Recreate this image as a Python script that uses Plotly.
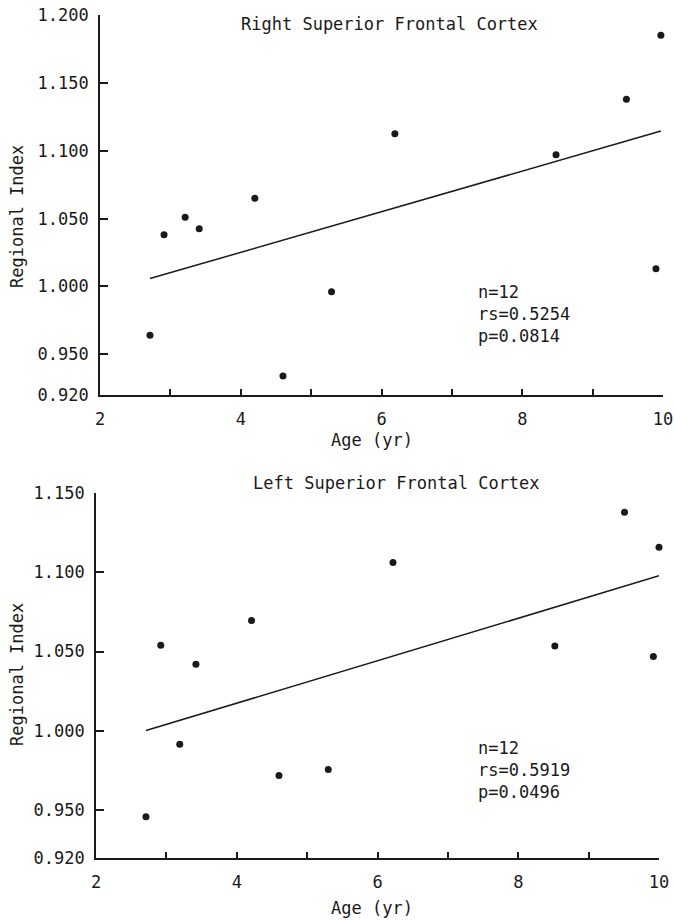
import numpy as np
import plotly.graph_objects as go

# ---- data ----
right_age = [2.71, 2.91, 3.21, 3.41, 4.20, 4.60, 5.29, 6.19, 8.48, 9.48, 9.97, 9.90]
right_idx = [0.964, 1.038, 1.051, 1.0425, 1.065, 0.934, 0.996, 1.1125, 1.097, 1.138, 1.185, 1.013]
left_age = [2.71, 2.92, 3.19, 3.42, 4.21, 4.60, 5.30, 6.22, 8.52, 9.51, 9.92, 10.0]
left_idx = [0.946, 1.054, 0.9916, 1.042, 1.0696, 0.972, 0.9758, 1.106, 1.0535, 1.1377, 1.0468, 1.1156]

right_yticks = [0.920, 0.950, 1.000, 1.050, 1.100, 1.150, 1.200]
left_yticks = [0.920, 0.950, 1.000, 1.050, 1.100, 1.150]
x_ticks = [2, 4, 6, 8, 10]

right_title = "Right Superior Frontal Cortex"
left_title = "Left Superior Frontal Cortex"
right_stats = ["n=12", "rs=0.5254", "p=0.0814"]
left_stats = ["n=12", "rs=0.5919", "p=0.0496"]

FONT = "DejaVu Sans Mono"
INK = "#1a1a1a"
FS = 17


def fit_line(x, y):
    x = np.asarray(x)
    y = np.asarray(y)
    b, a = np.polyfit(x, y, 1)
    xs = np.array([x.min(), x.max()])
    return xs, a + b * xs


fig = go.Figure()

for i, (ax, ay) in enumerate([(right_age, right_idx), (left_age, left_idx)]):
    xa = "x" if i == 0 else "x2"
    ya = "y" if i == 0 else "y2"
    lx, ly = fit_line(ax, ay)
    fig.add_trace(go.Scatter(x=lx, y=ly, mode="lines", line=dict(color=INK, width=1.5),
                             xaxis=xa, yaxis=ya, showlegend=False, hoverinfo="skip"))
    fig.add_trace(go.Scatter(x=ax, y=ay, mode="markers", marker=dict(color=INK, size=7),
                             xaxis=xa, yaxis=ya, showlegend=False, cliponaxis=False))

W, H = 674, 920


def xaxis_cfg(dom):
    return dict(domain=dom, range=[2, 10], tickvals=x_ticks, ticktext=[str(v) for v in x_ticks],
                showline=True, linecolor=INK, linewidth=1.6, ticks="inside", ticklen=6,
                tickwidth=1.5, tickcolor=INK, showgrid=False, zeroline=False, automargin=False,
                minor=dict(dtick=1, ticks="inside", ticklen=6, tickwidth=1.5, tickcolor=INK, showgrid=False),
                ticklabelstandoff=8, tickfont=dict(family=FONT, size=FS, color=INK))


def yaxis_cfg(dom, rng, ticks, anchor):
    return dict(domain=dom, range=rng, tickvals=ticks, ticktext=["%.3f" % v for v in ticks],
                showline=True, linecolor=INK, linewidth=1.6, ticks="inside", ticklen=8,
                tickwidth=1.5, tickcolor=INK, showgrid=False, zeroline=False, anchor=anchor,
                automargin=False,
                ticklabelstandoff=6, tickfont=dict(family=FONT, size=FS, color=INK))


fig.update_layout(
    width=W, height=H, margin=dict(l=0, r=0, t=0, b=0, autoexpand=False),
    paper_bgcolor="white", plot_bgcolor="white",
    xaxis=dict(xaxis_cfg([100 / W, 663 / W]), anchor="y"),
    yaxis=yaxis_cfg([1 - 395 / H, 1 - 15 / H], [0.92, 1.20], right_yticks, "x"),
    xaxis2=dict(xaxis_cfg([96 / W, 659 / W]), anchor="y2"),
    yaxis2=yaxis_cfg([1 - 858 / H, 1 - 492.7 / H], [0.92, 1.15], left_yticks, "x2"),
)

ann = []
ann.append(dict(text=right_title, x=389 / W, y=1 - 24 / H))
ann.append(dict(text=left_title, x=396 / W, y=1 - 483 / H))
ann.append(dict(text="Age (yr)", x=372 / W, y=1 - 440 / H))
ann.append(dict(text="Age (yr)", x=372 / W, y=1 - 908 / H))
ann.append(dict(text="Regional Index", x=17 / W, y=1 - 217 / H, textangle=-90))
ann.append(dict(text="Regional Index", x=17 / W, y=1 - 675 / H, textangle=-90))
ann.append(dict(text="<br>".join(right_stats), x=476 / W, y=1 - 314 / H, xanchor="left", align="left"))
ann.append(dict(text="<br>".join(left_stats), x=476 / W, y=1 - 770 / H, xanchor="left", align="left"))
for a in ann:
    a.setdefault("xanchor", "center")
    a.update(xref="paper", yref="paper", yanchor="middle", showarrow=False,
             font=dict(family=FONT, size=FS, color=INK))
fig.update_layout(annotations=ann)

fig.write_html("out.html", config={"displayModeBar": False},
               post_script="document.body.style.margin='0';document.body.style.overflow='hidden';")
